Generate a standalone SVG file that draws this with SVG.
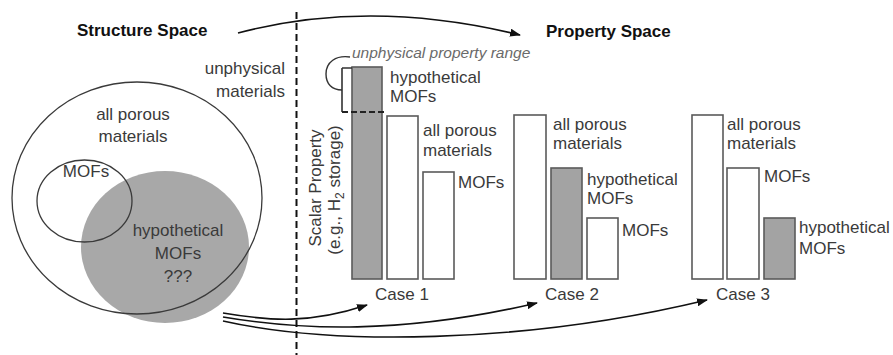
<svg xmlns="http://www.w3.org/2000/svg" width="893" height="355" viewBox="0 0 893 355">
<defs>
<marker id="ah" markerWidth="11" markerHeight="8" refX="10" refY="4" orient="auto" markerUnits="userSpaceOnUse">
<path d="M0,0 L11,4 L0,8 z" fill="#111"/>
</marker>
<style>
text{font-family:"Liberation Sans",Arial,sans-serif;font-size:17px;fill:#3a3a3a}
.title{font-weight:bold;fill:#111}
.mid{text-anchor:middle}
.end{text-anchor:end}
.ital{font-style:italic;fill:#6a6a6a;font-size:15.5px}
.bar{fill:#fff;stroke:#5a5a5a;stroke-width:1.6}
.gbar{fill:#a3a3a3;stroke:#5a5a5a;stroke-width:1.6}
.ring{fill:none;stroke:#3a3a3a;stroke-width:1.3}
.conn{fill:none;stroke:#111;stroke-width:1.6}
</style>
</defs>
<rect width="893" height="355" fill="#fff"/>

<g id="divider">
<line x1="296.5" y1="12" x2="296.5" y2="355" stroke="#111" stroke-width="2" stroke-dasharray="7,4"/>
</g>

<g id="structure-title"><text class="title" x="77" y="36">Structure Space</text></g>
<g id="property-title"><text class="title" x="546" y="37">Property Space</text></g>

<g id="unphysical-materials">
<text class="end" x="285" y="74">unphysical</text>
<text class="end" x="285" y="97">materials</text>
</g>

<g id="hypothetical-mofs-set">
<ellipse cx="165" cy="247" rx="84" ry="76" fill="#a8a8a8"/>
<text class="mid" x="178" y="236">hypothetical</text>
<text class="mid" x="178" y="259">MOFs</text>
<text class="mid" x="178" y="282">???</text>
</g>
<g id="all-porous-set">
<ellipse class="ring" cx="137" cy="198" rx="125" ry="116"/>
<text class="mid" x="133" y="120">all porous</text>
<text class="mid" x="133" y="142">materials</text>
</g>
<g id="mofs-set">
<ellipse class="ring" cx="84.5" cy="201" rx="47.5" ry="41"/>
<text class="mid" x="86" y="177">MOFs</text>
</g>

<g id="axis-label">
<text class="mid" transform="translate(321,188) rotate(-90)">Scalar Property</text>
<text class="mid" transform="translate(340,190) rotate(-90)">(e.g., H<tspan font-size="12" dy="4">2</tspan><tspan dy="-4"> storage)</tspan></text>
</g>

<g id="case1">
<rect class="gbar" x="352" y="67" width="30" height="212"/>
<rect class="bar" x="387" y="116" width="31" height="163"/>
<rect class="bar" x="423" y="172" width="31" height="107"/>
<text x="390" y="83">hypothetical</text>
<text x="390" y="102">MOFs</text>
<text x="423" y="136">all porous</text>
<text x="423" y="156">materials</text>
<text x="458" y="188">MOFs</text>
<text class="mid" x="402" y="300">Case 1</text>
</g>

<g id="unphysical-range">
<path d="M342,68 L352,68 M342,68 L342,112" fill="none" stroke="#333" stroke-width="1.6"/>
<line x1="342" y1="112" x2="387" y2="112" stroke="#222" stroke-width="2" stroke-dasharray="6,3"/>
<path d="M350,57 C336,55 326,62 326,74 C326,84 332,90 342,90" fill="none" stroke="#333" stroke-width="1.4"/>
<text class="ital" x="352" y="58">unphysical property range</text>
</g>

<g id="case2">
<rect class="bar" x="514" y="115" width="32" height="164"/>
<rect class="gbar" x="551" y="168" width="31" height="111"/>
<rect class="bar" x="587" y="218" width="31" height="61"/>
<text x="553" y="130">all porous</text>
<text x="553" y="149">materials</text>
<text x="587" y="185">hypothetical</text>
<text x="587" y="204">MOFs</text>
<text x="622" y="236">MOFs</text>
<text class="mid" x="572" y="300">Case 2</text>
</g>

<g id="case3">
<rect class="bar" x="692" y="115" width="31" height="164"/>
<rect class="bar" x="727" y="168" width="32" height="111"/>
<rect class="gbar" x="764" y="218" width="31" height="61"/>
<text x="727" y="130">all porous</text>
<text x="727" y="149">materials</text>
<text x="764" y="182">MOFs</text>
<text x="799" y="233">hypothetical</text>
<text x="799" y="254">MOFs</text>
<text class="mid" x="743" y="300">Case 3</text>
</g>

<g id="connectors">
<path class="conn" d="M238,33 Q370,-2 520,35" marker-end="url(#ah)"/>
<path class="conn" d="M223,313 C270,321 310,324 367,305" marker-end="url(#ah)"/>
<path class="conn" d="M223,317 C300,330 400,335 537,303" marker-end="url(#ah)"/>
<path class="conn" d="M223,321 C330,345 520,345 707,300" marker-end="url(#ah)"/>
</g>
</svg>
